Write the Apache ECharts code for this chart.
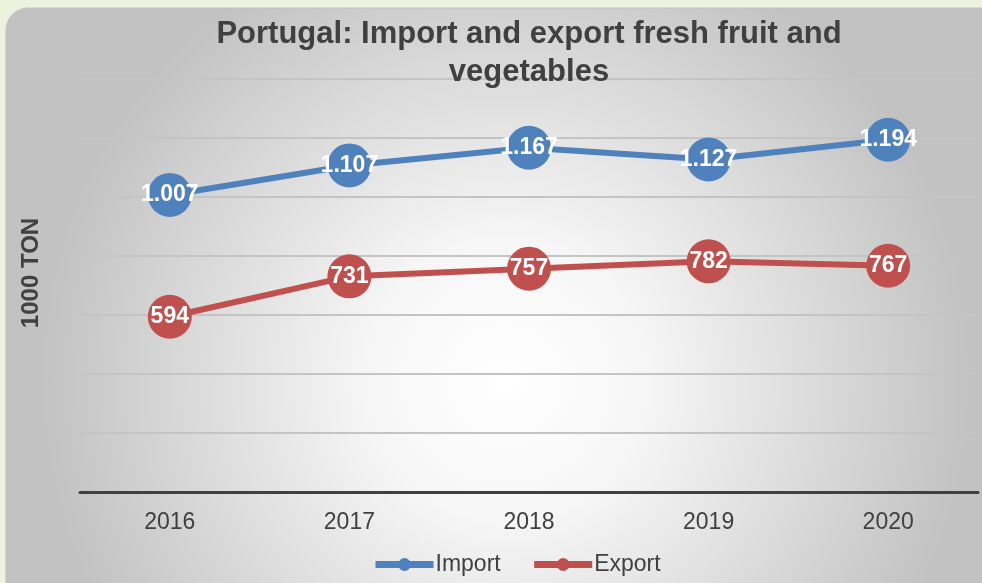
<!DOCTYPE html>
<html>
<head>
<meta charset="utf-8">
<script src="https://cdn.jsdelivr.net/npm/echarts@6/dist/echarts.min.js"></script>
<style>
html,body{margin:0;padding:0;background:#EBF3DF;}
#c{width:982px;height:583px;}
</style>
</head>
<body>
<div id="c"></div>
<script>
const categories = ['2016','2017','2018','2019','2020'];
const importValues = [1007, 1107, 1167, 1127, 1194];
const exportValues = [594, 731, 757, 782, 767];
const importLabels = ['1.007','1.107','1.167','1.127','1.194'];
const exportLabels = ['594','731','757','782','767'];

const chart = echarts.init(document.getElementById('c'));
const font = 'Liberation Sans, Arial, sans-serif';
chart.setOption({
  backgroundColor: 'transparent',
  graphic: [{
    type: 'rect', z: -10, silent: true,
    shape: {x: 6, y: 8, width: 1000, height: 620, r: 22},
    style: {
      fill: {
        type: 'radial', x: 0.5, y: 0.6, r: 0.75,
        colorStops: [{offset: 0, color: '#ffffff'}, {offset: 0.3, color: '#f6f6f6'}, {offset: 1, color: '#c2c2c2'}]
      },
      stroke: '#c0c0c0', lineWidth: 1
    }
  }],
  title: {
    text: 'Portugal: Import and export fresh fruit and\nvegetables',
    left: 524, textAlign: 'center', top: 10,
    textStyle: {fontFamily: font, fontSize: 31, fontWeight: 'bold', color: '#404040', lineHeight: 38}
  },
  grid: {left: 80, right: 4, top: 79, bottom: 91},
  legend: {
    data: ['Import', 'Export'],
    top: 548, left: 367,
    itemWidth: 58, itemHeight: 16, itemGap: 30,
    lineStyle: {width: 7},
    textStyle: {fontFamily: font, fontSize: 23, color: '#404040', padding: [0,0,0,-3]}
  },
  xAxis: {
    type: 'category', data: categories, boundaryGap: true,
    axisLine: {lineStyle: {color: '#404040', width: 3}},
    axisTick: {show: false},
    axisLabel: {fontFamily: font, fontSize: 23, color: '#404040', margin: 19}
  },
  yAxis: {
    type: 'value', min: 0, max: 1400, interval: 200,
    name: '1000 TON', nameLocation: 'middle', nameGap: 37, nameRotate: 90,
    nameTextStyle: {fontFamily: font, fontSize: 24, fontWeight: 'bold', color: '#404040', padding: [0,0,0,25]},
    axisLabel: {show: false},
    axisLine: {show: false}, axisTick: {show: false},
    splitLine: {lineStyle: {color: '#c4c4c4', width: 2}}
  },
  series: [
    {
      name: 'Import', type: 'line', data: importValues,
      symbol: 'circle', symbolSize: 44,
      itemStyle: {color: '#4F81BD'},
      lineStyle: {width: 6, color: '#4F81BD'},
      label: {show: true, position: 'inside', color: '#fff', fontFamily: font, fontSize: 23, fontWeight: 'bold',
        formatter: p => importLabels[p.dataIndex]}
    },
    {
      name: 'Export', type: 'line', data: exportValues,
      symbol: 'circle', symbolSize: 44,
      itemStyle: {color: '#C0504D'},
      lineStyle: {width: 6, color: '#C0504D'},
      label: {show: true, position: 'inside', color: '#fff', fontFamily: font, fontSize: 23, fontWeight: 'bold',
        formatter: p => exportLabels[p.dataIndex]}
    }
  ]
});
</script>
</body>
</html>
